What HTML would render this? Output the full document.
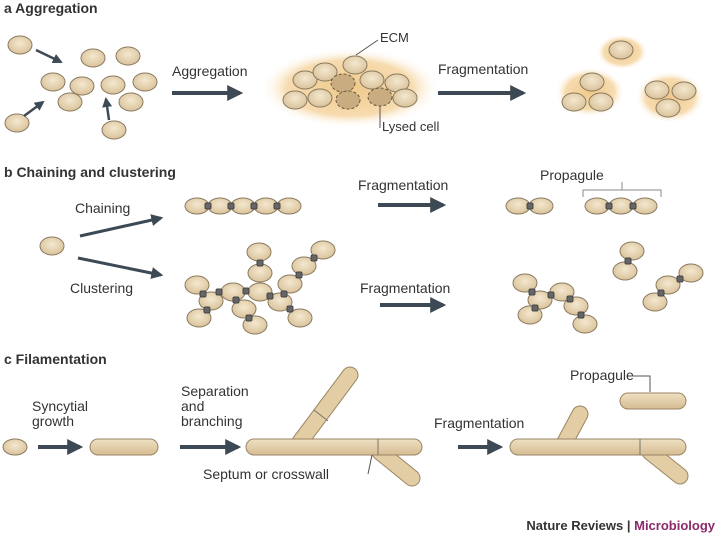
<!DOCTYPE html><html><head><style>body{margin:0;background:#fff}svg{display:block}text{font-family:"Liberation Sans",sans-serif;fill:#333}</style></head><body>
<svg width="720" height="540" viewBox="0 0 720 540" xmlns="http://www.w3.org/2000/svg">
<defs>
<radialGradient id="c" cx="50%" cy="40%" r="60%"><stop offset="0" stop-color="#f4e8cf"/><stop offset="1" stop-color="#d9c29a"/></radialGradient>
<radialGradient id="ecm" cx="50%" cy="50%" r="50%"><stop offset="0" stop-color="#f0c98a"/><stop offset="0.7" stop-color="#f7dcb0"/><stop offset="1" stop-color="#fff" stop-opacity="0"/></radialGradient>
<linearGradient id="f" x1="0" y1="0" x2="0" y2="1"><stop offset="0" stop-color="#efe0c2"/><stop offset="1" stop-color="#d5bc92"/></linearGradient>
<marker id="ah" viewBox="0 0 10 10" refX="8" refY="5" markerWidth="4" markerHeight="4" orient="auto"><path d="M0,0L10,5L0,10z" fill="#3d4a55"/></marker>
<g id="cell"><ellipse rx="12" ry="9" fill="url(#c)" stroke="#8a7a60" stroke-width="1"/></g>
<g id="lys"><ellipse rx="12" ry="9" fill="#c9ad80" stroke="#6a5a40" stroke-dasharray="3,2"/></g>
<g id="bc"><ellipse rx="12" ry="8" fill="url(#c)" stroke="#8a7a60"/></g>
<g id="kn"><rect x="-3" y="-3" width="6" height="6" rx="1.5" fill="#666" stroke="#444"/></g>
</defs>
<text x="4" y="13" font-size="14" font-weight="bold">a  Aggregation</text>
<g>
<use href="#cell" x="20" y="45"/><use href="#cell" x="93" y="58"/><use href="#cell" x="128" y="56"/><use href="#cell" x="53" y="82"/><use href="#cell" x="82" y="86"/><use href="#cell" x="113" y="85"/><use href="#cell" x="145" y="82"/><use href="#cell" x="70" y="102"/><use href="#cell" x="131" y="102"/><use href="#cell" x="17" y="123"/><use href="#cell" x="114" y="130"/>
</g>
<g stroke="#3d4a55" stroke-width="2.5" marker-end="url(#ah)"><line x1="36" y1="50" x2="61" y2="62"/><line x1="24" y1="116" x2="43" y2="102"/><line x1="109" y1="120" x2="106" y2="99"/></g>
<text x="172" y="76" font-size="14">Aggregation</text>
<g stroke="#3d4a55" stroke-width="4" marker-end="url(#ah)"><line x1="172" y1="93" x2="240" y2="93"/><line x1="438" y1="93" x2="523" y2="93"/><line x1="378" y1="205" x2="443" y2="205"/><line x1="380" y1="305" x2="443" y2="305"/><line x1="38" y1="447" x2="80" y2="447"/><line x1="180" y1="447" x2="238" y2="447"/><line x1="458" y1="447" x2="500" y2="447"/></g>
<ellipse cx="350" cy="88" rx="90" ry="40" fill="url(#ecm)"/>
<use href="#cell" x="305" y="80"/><use href="#cell" x="325" y="72"/><use href="#cell" x="355" y="65"/><use href="#lys" x="343" y="83"/><use href="#cell" x="372" y="80"/><use href="#cell" x="397" y="83"/><use href="#cell" x="295" y="100"/><use href="#cell" x="320" y="98"/><use href="#lys" x="348" y="100"/><use href="#lys" x="380" y="97"/><use href="#cell" x="405" y="98"/>
<text x="380" y="42" font-size="13">ECM</text><line x1="378" y1="40" x2="356" y2="55" stroke="#555"/>
<text x="382" y="131" font-size="13">Lysed cell</text><line x1="380" y1="128" x2="380" y2="106" stroke="#555"/>
<text x="438" y="74" font-size="14">Fragmentation</text>
<ellipse cx="622" cy="52" rx="26" ry="18" fill="url(#ecm)"/><ellipse cx="590" cy="92" rx="35" ry="25" fill="url(#ecm)"/><ellipse cx="670" cy="97" rx="35" ry="26" fill="url(#ecm)"/>
<use href="#cell" x="621" y="50"/><use href="#cell" x="592" y="82"/><use href="#cell" x="574" y="102"/><use href="#cell" x="601" y="102"/><use href="#cell" x="657" y="90"/><use href="#cell" x="684" y="91"/><use href="#cell" x="668" y="108"/>

<text x="4" y="177" font-size="14" font-weight="bold">b  Chaining and clustering</text>
<text x="75" y="213" font-size="14">Chaining</text><text x="70" y="293" font-size="14">Clustering</text>
<use href="#cell" x="52" y="246"/>
<g stroke="#3d4a55" stroke-width="3" marker-end="url(#ah)"><line x1="80" y1="236" x2="161" y2="218"/><line x1="78" y1="258" x2="161" y2="275"/></g>
<g><use href="#bc" x="197" y="206"/><use href="#bc" x="220" y="206"/><use href="#bc" x="243" y="206"/><use href="#bc" x="266" y="206"/><use href="#bc" x="289" y="206"/>
<use href="#kn" x="208" y="206"/><use href="#kn" x="231" y="206"/><use href="#kn" x="254" y="206"/><use href="#kn" x="277" y="206"/></g>
<text x="358" y="190" font-size="14">Fragmentation</text>
<use href="#bc" x="518" y="206"/><use href="#bc" x="541" y="206"/><use href="#kn" x="530" y="206"/>
<use href="#bc" x="597" y="206"/><use href="#bc" x="621" y="206"/><use href="#bc" x="645" y="206"/><use href="#kn" x="609" y="206"/><use href="#kn" x="633" y="206"/>
<path d="M583,197V190H661V197M622,190V182" fill="none" stroke="#888"/>
<text x="540" y="180" font-size="14">Propagule</text>
<g>
<use href="#cell" x="197" y="285"/><use href="#cell" x="211" y="301"/><use href="#cell" x="199" y="318"/><use href="#cell" x="233" y="292"/><use href="#cell" x="244" y="309"/><use href="#cell" x="255" y="325"/><use href="#cell" x="259" y="252"/><use href="#cell" x="260" y="273"/><use href="#cell" x="260" y="292"/><use href="#cell" x="280" y="302"/><use href="#cell" x="300" y="318"/><use href="#cell" x="290" y="284"/><use href="#cell" x="304" y="266"/><use href="#cell" x="323" y="250"/>
<use href="#kn" x="203" y="294"/><use href="#kn" x="207" y="310"/><use href="#kn" x="219" y="292"/><use href="#kn" x="236" y="300"/><use href="#kn" x="249" y="318"/><use href="#kn" x="260" y="263"/><use href="#kn" x="246" y="291"/><use href="#kn" x="270" y="296"/><use href="#kn" x="290" y="309"/><use href="#kn" x="284" y="294"/><use href="#kn" x="299" y="275"/><use href="#kn" x="314" y="258"/>
</g>
<text x="360" y="293" font-size="14">Fragmentation</text>
<g>
<use href="#cell" x="525" y="283"/><use href="#cell" x="540" y="300"/><use href="#cell" x="530" y="315"/><use href="#cell" x="562" y="292"/><use href="#cell" x="576" y="306"/><use href="#cell" x="585" y="324"/><use href="#cell" x="632" y="251"/><use href="#cell" x="625" y="271"/><use href="#cell" x="655" y="302"/><use href="#cell" x="668" y="285"/><use href="#cell" x="691" y="273"/>
<use href="#kn" x="532" y="292"/><use href="#kn" x="535" y="308"/><use href="#kn" x="551" y="295"/><use href="#kn" x="570" y="299"/><use href="#kn" x="581" y="315"/><use href="#kn" x="628" y="261"/><use href="#kn" x="661" y="293"/><use href="#kn" x="680" y="279"/>
</g>

<text x="4" y="364" font-size="14" font-weight="bold">c  Filamentation</text>
<text x="32" y="411" font-size="14">Syncytial</text><text x="32" y="426" font-size="14">growth</text>
<text x="181" y="396" font-size="14">Separation</text><text x="181" y="411" font-size="14">and</text><text x="181" y="426" font-size="14">branching</text>
<ellipse cx="15" cy="447" rx="12" ry="8" fill="url(#c)" stroke="#8a7a60"/>
<g stroke-linecap="round" fill="none">
<g stroke="#9a8564" stroke-width="17"><path d="M300,442L350,375"/><path d="M380,452L412,478"/><path d="M565,442L580,414"/><path d="M650,452L680,476"/></g>
<g stroke="#e2cda5" stroke-width="15"><path d="M300,442L350,375"/><path d="M380,452L412,478"/><path d="M565,442L580,414"/><path d="M650,452L680,476"/></g>
</g>
<g fill="url(#f)" stroke="#9a8564">
<rect x="90" y="439" width="68" height="16" rx="8"/>
<rect x="246" y="439" width="176" height="16" rx="8"/>
<rect x="510" y="439" width="176" height="16" rx="8"/>
<rect x="620" y="393" width="66" height="16" rx="8"/>
</g>
<line x1="378" y1="439" x2="378" y2="455" stroke="#776"/><line x1="640" y1="439" x2="640" y2="455" stroke="#776"/><line x1="314" y1="410" x2="328" y2="421" stroke="#776"/>
<text x="203" y="479" font-size="14">Septum or crosswall</text><path d="M368,474L372,455" stroke="#555" fill="none"/>
<text x="434" y="428" font-size="14">Fragmentation</text>
<text x="570" y="380" font-size="14">Propagule</text><path d="M630,376H650V392" stroke="#555" fill="none"/>
<text x="715" y="530" font-size="13" text-anchor="end" font-weight="bold">Nature Reviews | <tspan fill="#8b2a6a">Microbiology</tspan></text>
</svg></body></html>
